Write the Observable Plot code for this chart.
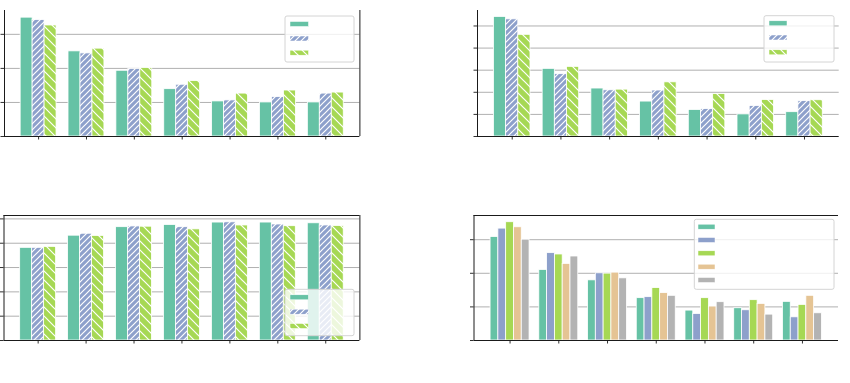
<!DOCTYPE html>
<html><head><meta charset="utf-8">
<script src="https://cdn.jsdelivr.net/npm/d3@7"></script>
<script src="https://cdn.jsdelivr.net/npm/@observablehq/plot@0.6"></script>
<style>
html,body{margin:0;padding:0;background:#fff;}
#root{position:relative;width:850px;height:383px;overflow:hidden;background:#fff;}
.panel{position:absolute;}
</style></head><body><div id="root"></div>
<script>
// ---- data ----
const groups = [0, 1, 2, 3, 4, 5, 6];

const p1Teal  = [3.49, 2.50, 1.93, 1.39, 1.03, 1.00, 1.00];
const p1Blue  = [3.42, 2.44, 1.98, 1.52, 1.06, 1.16, 1.26];
const p1Green = [3.26, 2.58, 2.01, 1.63, 1.26, 1.35, 1.29];

const p2Teal  = [5.41, 3.06, 2.17, 1.58, 1.20, 1.00, 1.10];
const p2Blue  = [5.30, 2.82, 2.09, 2.08, 1.24, 1.38, 1.60];
const p2Green = [4.60, 3.15, 2.12, 2.45, 1.92, 1.65, 1.64];

const p3Teal  = [3.81, 4.31, 4.66, 4.75, 4.85, 4.85, 4.82];
const p3Blue  = [3.81, 4.39, 4.69, 4.66, 4.86, 4.77, 4.73];
const p3Green = [3.85, 4.30, 4.68, 4.57, 4.73, 4.70, 4.71];

const p4Teal  = [3.08, 2.10, 1.79, 1.26, 0.89, 0.96, 1.15];
const p4Blue  = [3.33, 2.60, 2.00, 1.29, 0.79, 0.90, 0.69];
const p4Green = [3.52, 2.56, 1.99, 1.56, 1.26, 1.20, 1.06];
const p4Tan   = [3.37, 2.28, 2.02, 1.41, 1.01, 1.09, 1.33];
const p4Gray  = [3.00, 2.50, 1.85, 1.33, 1.14, 0.77, 0.81];

const yTicks1 = [0, 1, 2, 3];
const yTicks2 = [0, 1, 2, 3, 4, 5];
const yTicks3 = [0, 1, 2, 3, 4, 5];
const yTicks4 = [0, 1, 2, 3];

// ---- styles ----
const TEAL = "#66c2a5", BLUE = "#8da0cb", GREEN = "#a6d854", TAN = "#e5c494", GRAY = "#b3b3b3";
const SPINE = "#1a1a1a", GRID = "#b0b0b0";

function panel(cfg) {
  const n = cfg.series.length;
  const w = cfg.barWidth;
  const fillOf = (s, j) => s.hatch ? `url(#h-${cfg.id}-${j})` : s.color;
  const marks = [];
  marks.push(Plot.ruleY(cfg.yTicks.filter(t => t > 0), {stroke: GRID, strokeWidth: 1}));
  cfg.series.forEach((s, j) => {
    const off = (j - (n - 1) / 2) * w;
    const rows = groups.map(i => ({i, v: s.values[i]}));
    marks.push(Plot.rectY(rows, {
      x1: d => d.i + off - w / 2,
      x2: d => d.i + off + w / 2,
      y: "v",
      fill: fillOf(s, j),
      stroke: "white",
      strokeWidth: 0.8
    }));
  });
  const [x0, x1] = cfg.xDomain, [y0, y1] = cfg.yDomain;
  if (cfg.spines.left) marks.push(Plot.ruleX([x0], {stroke: SPINE, strokeWidth: 1}));
  if (cfg.spines.right) marks.push(Plot.ruleX([x1], {stroke: SPINE, strokeWidth: 1}));
  if (cfg.spines.top) marks.push(Plot.ruleY([y1], {stroke: SPINE, strokeWidth: 1}));
  marks.push(Plot.ruleY([y0], {stroke: SPINE, strokeWidth: 1}));
  marks.push(Plot.axisY({ticks: cfg.yTicks, tickSize: 3.5, fill: "none", stroke: SPINE, strokeWidth: 0.9}));
  marks.push(Plot.axisX({ticks: groups, tickSize: 3.5, fill: "none", stroke: SPINE, strokeWidth: 0.9}));

  const svg = Plot.plot({
    width: cfg.width, height: cfg.height,
    marginLeft: cfg.m[3], marginRight: cfg.m[1], marginTop: cfg.m[0], marginBottom: cfg.m[2],
    x: {type: "linear", domain: cfg.xDomain},
    y: {type: "linear", domain: cfg.yDomain},
    style: {background: "transparent", overflow: "visible"},
    marks
  });

  // hatch patterns
  const defs = d3.select(svg).insert("defs", ":first-child");
  cfg.series.forEach((s, j) => {
    if (!s.hatch) return;
    const p = s.period;
    const pat = defs.append("pattern").attr("id", `h-${cfg.id}-${j}`)
      .attr("patternUnits", "userSpaceOnUse").attr("width", p).attr("height", p);
    pat.append("rect").attr("width", p).attr("height", p).attr("fill", s.color);
    const d = s.hatch === "/"
      ? `M0,${p} L${p},0 M-1,1 L1,-1 M${p - 1},${p + 1} L${p + 1},${p - 1}`
      : `M0,0 L${p},${p} M-1,${p - 1} L1,${p + 1} M${p - 1},-1 L${p + 1},1`;
    pat.append("path").attr("d", d).attr("stroke", "white").attr("stroke-width", 1.2).attr("fill", "none");
  });

  // legend (no text labels in the reference)
  const L = cfg.legend;
  const g = d3.select(svg).append("g");
  g.append("rect").attr("x", L.x).attr("y", L.y).attr("width", L.w).attr("height", L.h)
    .attr("rx", 2).attr("fill", "white").attr("fill-opacity", 0.8)
    .attr("stroke", "#d4d4d4").attr("stroke-width", 1);
  cfg.series.forEach((s, j) => {
    g.append("rect").attr("x", L.sx).attr("y", L.sy[j] - L.sh / 2)
      .attr("width", L.sw).attr("height", L.sh)
      .attr("fill", fillOf(s, j)).attr("stroke", "white").attr("stroke-width", 0.5);
  });

  svg.setAttribute("class", (svg.getAttribute("class") || "") + " panel");
  svg.style.left = cfg.left + "px";
  svg.style.top = cfg.top + "px";
  document.getElementById("root").appendChild(svg);
}

panel({
  id: "p1", left: 0, top: 0, width: 370, height: 150, m: [10, 10.6, 14, 4],
  xDomain: [-0.7125, 6.7125], yDomain: [0, 3.7], yTicks: yTicks1, barWidth: 0.25,
  spines: {left: true, right: true, top: false},
  series: [
    {values: p1Teal, color: TEAL},
    {values: p1Blue, color: BLUE, hatch: "/", period: 6},
    {values: p1Green, color: GREEN, hatch: "\\", period: 9}
  ],
  legend: {x: 285, y: 16, w: 69, h: 46, sx: 290, sw: 18.5, sh: 5, sy: [24, 38.5, 52.7]}
});

panel({
  id: "p2", left: 470, top: 0, width: 380, height: 150, m: [10, 11.3, 14, 7],
  xDomain: [-0.7125, 6.7125], yDomain: [0, 5.7], yTicks: yTicks2, barWidth: 0.25,
  spines: {left: true, right: false, top: false},
  series: [
    {values: p2Teal, color: TEAL},
    {values: p2Blue, color: BLUE, hatch: "/", period: 6},
    {values: p2Green, color: GREEN, hatch: "\\", period: 9}
  ],
  legend: {x: 294, y: 15.7, w: 70, h: 46.3, sx: 299, sw: 18, sh: 5, sy: [23.3, 37.5, 52.3]}
});

panel({
  id: "p3", left: 0, top: 200, width: 370, height: 150, m: [15, 10.6, 10, 3.5],
  xDomain: [-0.7125, 6.7125], yDomain: [0, 5.14], yTicks: yTicks3, barWidth: 0.25,
  spines: {left: true, right: true, top: true},
  series: [
    {values: p3Teal, color: TEAL},
    {values: p3Blue, color: BLUE, hatch: "/", period: 6},
    {values: p3Green, color: GREEN, hatch: "\\", period: 9}
  ],
  legend: {x: 285, y: 89.3, w: 69, h: 46.4, sx: 290, sw: 18.5, sh: 5, sy: [97.3, 111.7, 126]}
});

panel({
  id: "p4", left: 470, top: 200, width: 380, height: 150, m: [15, 12, 10, 3.5],
  xDomain: [-0.74, 6.74], yDomain: [0, 3.72], yTicks: yTicks4, barWidth: 0.16,
  spines: {left: true, right: false, top: true},
  series: [
    {values: p4Teal, color: TEAL},
    {values: p4Blue, color: BLUE},
    {values: p4Green, color: GREEN},
    {values: p4Tan, color: TAN},
    {values: p4Gray, color: GRAY}
  ],
  legend: {x: 224.3, y: 19.3, w: 139.7, h: 70, sx: 228, sw: 17, sh: 5, sy: [26.7, 40, 53.3, 66.7, 80]}
});
</script>
</body></html>
